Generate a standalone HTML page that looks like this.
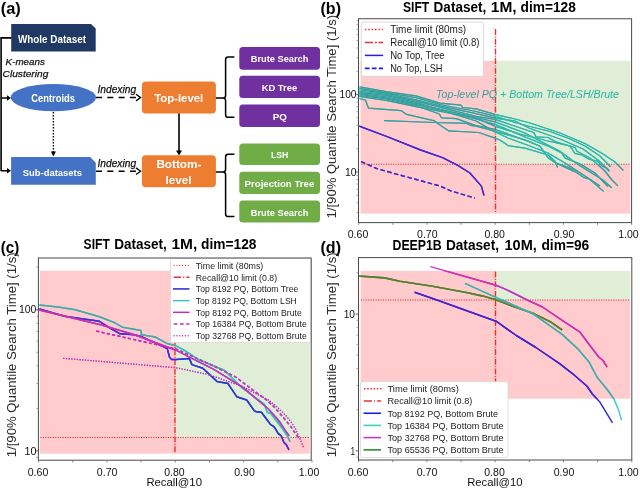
<!DOCTYPE html>
<html><head><meta charset="utf-8"><style>
html,body{margin:0;padding:0;background:#fff;}
body{width:640px;height:489px;overflow:hidden;}
svg{display:block;font-family:"Liberation Sans", sans-serif;filter:blur(0.35px);}
</style></head><body>
<svg width="640" height="489" viewBox="0 0 640 489">
<rect x="0" y="0" width="640" height="489" fill="#fff"/>
<text x="0.80" y="14.30" font-size="17" font-weight="bold" fill="#000" textLength="20.00" lengthAdjust="spacingAndGlyphs">(a)</text>
<path d="M11.5,37.9 H1.1 V171" fill="none" stroke="#000" stroke-width="1.6"/>
<line x1="1.10" y1="98.00" x2="9.00" y2="98.00" stroke="#000" stroke-width="1.5"/>
<path d="M7,95.3 L11,98 L7,100.7 Z" fill="#000"/>
<line x1="1.10" y1="170.80" x2="9.00" y2="170.80" stroke="#000" stroke-width="1.5"/>
<path d="M7,168.1 L11,170.8 L7,173.5 Z" fill="#000"/>
<path d="M11.2,23.9 H91 L95.7,28.6 V51.6 H11.2 Z" fill="#203864"/>
<text x="18.00" y="43.00" font-size="10.7" font-weight="bold" fill="#fff" textLength="68.00" lengthAdjust="spacingAndGlyphs">Whole Dataset</text>
<text x="5.60" y="65.00" font-size="9.8" font-style="italic" fill="#111" textLength="39.20" lengthAdjust="spacingAndGlyphs" stroke="#111" stroke-width="0.25">K-means</text>
<text x="2.60" y="77.20" font-size="9.8" font-style="italic" fill="#111" textLength="45.70" lengthAdjust="spacingAndGlyphs" stroke="#111" stroke-width="0.25">Clustering</text>
<ellipse cx="53.4" cy="97.6" rx="42.7" ry="13.7" fill="#4472C4"/>
<text x="31.20" y="101.60" font-size="10.3" font-weight="bold" fill="#fff" textLength="43.80" lengthAdjust="spacingAndGlyphs">Centroids</text>
<line x1="53.40" y1="112.00" x2="53.40" y2="152.50" stroke="#000" stroke-width="1.4" stroke-dasharray="1.4,1.6"/>
<path d="M50.9,151.5 L53.4,156.6 L55.9,151.5 Z" fill="#000"/>
<path d="M11.1,157.1 H90.2 L95.8,162.7 V184.8 H11.1 Z" fill="#4472C4"/>
<text x="22.70" y="176.10" font-size="9.8" font-weight="bold" fill="#fff" textLength="59.30" lengthAdjust="spacingAndGlyphs">Sub-datasets</text>
<line x1="96.00" y1="97.60" x2="139.50" y2="97.60" stroke="#000" stroke-width="1.5" stroke-dasharray="6,5.3"/>
<path d="M136,94.30 L140.6,97.60 L136,100.90" fill="none" stroke="#000" stroke-width="1.3"/>
<text x="97.50" y="92.60" font-size="10.0" font-style="italic" fill="#111" textLength="38.60" lengthAdjust="spacingAndGlyphs" stroke="#111" stroke-width="0.25">Indexing</text>
<line x1="96.00" y1="171.20" x2="139.50" y2="171.20" stroke="#000" stroke-width="1.5" stroke-dasharray="6,5.3"/>
<path d="M136,167.90 L140.6,171.20 L136,174.50" fill="none" stroke="#000" stroke-width="1.3"/>
<text x="97.50" y="167.10" font-size="10.0" font-style="italic" fill="#111" textLength="38.60" lengthAdjust="spacingAndGlyphs" stroke="#111" stroke-width="0.25">Indexing</text>
<rect x="141.90" y="81.50" width="74.00" height="32.10" fill="#ED7D31" rx="4"/>
<text x="154.20" y="102.00" font-size="11.0" font-weight="bold" fill="#fff" textLength="49.00" lengthAdjust="spacingAndGlyphs">Top-level</text>
<rect x="141.90" y="155.25" width="74.00" height="32.00" fill="#ED7D31" rx="4"/>
<text x="156.40" y="167.50" font-size="10.6" font-weight="bold" fill="#fff" textLength="45.00" lengthAdjust="spacingAndGlyphs">Bottom-</text>
<text x="165.40" y="183.75" font-size="10.6" font-weight="bold" fill="#fff" textLength="26.00" lengthAdjust="spacingAndGlyphs">level</text>
<line x1="179.00" y1="113.60" x2="179.00" y2="151.50" stroke="#000" stroke-width="1.6"/>
<path d="M176,150.5 L179,155.4 L182,150.5 Z" fill="#000"/>
<path d="M234.4,57.0 H228.2 Q225.6,57.0 225.6,59.6 V95.4 Q225.6,98.0 223,98.0 H215.9 M223,98.0 Q225.6,98.0 225.6,100.6 V114.7 Q225.6,117.3 228.2,117.3 H234.4" fill="none" stroke="#000" stroke-width="1.5"/>
<path d="M234.4,154.3 H228.2 Q225.6,154.3 225.6,156.9 V169.3 Q225.6,171.9 223,171.9 H215.9 M223,171.9 Q225.6,171.9 225.6,174.5 V214.0 Q225.6,216.6 228.2,216.6 H234.4" fill="none" stroke="#000" stroke-width="1.5"/>
<rect x="239.30" y="47.00" width="80.70" height="22.70" fill="#7030A0" rx="3.5"/>
<text x="250.70" y="61.80" font-size="9.2" font-weight="bold" fill="#fff" textLength="57.70" lengthAdjust="spacingAndGlyphs">Brute Search</text>
<rect x="239.30" y="75.80" width="80.70" height="22.30" fill="#7030A0" rx="3.5"/>
<text x="261.70" y="90.70" font-size="9.2" font-weight="bold" fill="#fff" textLength="35.50" lengthAdjust="spacingAndGlyphs">KD Tree</text>
<rect x="239.30" y="104.60" width="80.70" height="22.30" fill="#7030A0" rx="3.5"/>
<text x="272.80" y="119.70" font-size="9.2" font-weight="bold" fill="#fff" textLength="14.10" lengthAdjust="spacingAndGlyphs">PQ</text>
<rect x="239.30" y="143.60" width="80.70" height="21.50" fill="#70AD47" rx="3.5"/>
<text x="271.00" y="158.00" font-size="9.2" font-weight="bold" fill="#fff" textLength="17.30" lengthAdjust="spacingAndGlyphs">LSH</text>
<rect x="239.30" y="171.70" width="80.70" height="22.30" fill="#70AD47" rx="3.5"/>
<text x="244.60" y="186.60" font-size="9.2" font-weight="bold" fill="#fff" textLength="69.70" lengthAdjust="spacingAndGlyphs">Projection Tree</text>
<rect x="239.30" y="200.50" width="80.70" height="22.00" fill="#70AD47" rx="3.5"/>
<text x="250.70" y="215.50" font-size="9.2" font-weight="bold" fill="#fff" textLength="57.70" lengthAdjust="spacingAndGlyphs">Brute Search</text>
<text x="320.50" y="14.00" font-size="17" font-weight="bold" fill="#000" textLength="20.50" lengthAdjust="spacingAndGlyphs">(b)</text>
<text x="403.00" y="12.00" font-size="14" font-weight="bold" fill="#000" textLength="26.20" lengthAdjust="spacingAndGlyphs">SIFT</text>
<text x="433.60" y="12.00" font-size="14" font-weight="bold" fill="#000" textLength="52.60" lengthAdjust="spacingAndGlyphs">Dataset,</text>
<text x="490.80" y="12.00" font-size="14" font-weight="bold" fill="#000" textLength="25.80" lengthAdjust="spacingAndGlyphs">1M,</text>
<text x="520.50" y="12.00" font-size="14" font-weight="bold" fill="#000" textLength="55.40" lengthAdjust="spacingAndGlyphs">dim=128</text>
<rect x="360.50" y="60.75" width="135.00" height="152.85" fill="#FFCBCC"/>
<rect x="495.50" y="164.20" width="134.80" height="49.40" fill="#FFCBCC"/>
<rect x="495.50" y="60.75" width="134.80" height="103.45" fill="#E0EED8"/>
<clipPath id="bp"><rect x="360.5" y="60.75" width="135.00" height="152.85"/><rect x="495.5" y="164.2" width="134.80" height="49.40"/></clipPath>
<clipPath id="bg"><rect x="495.5" y="60.75" width="134.80" height="103.45"/></clipPath>
<line x1="361.20" y1="164.25" x2="630.30" y2="164.25" stroke="#F03030" stroke-width="1.0" stroke-dasharray="1.2,1.25"/>
<line x1="495.50" y1="29.00" x2="495.50" y2="213.20" stroke="#F03030" stroke-width="1.4" stroke-dasharray="6,1.4,1,1.3"/>
<polyline points="359.00,86.80 386.00,91.60 416.00,95.80 440.00,103.20 461.00,105.10 462.50,107.50 476.00,108.90 495.00,114.40 515.00,119.00 530.00,123.00 560.00,133.00 585.00,143.50 603.00,154.00 615.00,162.00 623.40,170.60" fill="none" stroke="#3CC4BC" stroke-width="1.25" stroke-linejoin="round"/>
<polyline points="359.00,86.80 386.00,91.60 416.00,95.80 440.00,103.20 461.00,105.10 462.50,107.50 476.00,108.90 495.00,114.40 515.00,119.00 530.00,123.00 560.00,133.00 585.00,143.50 603.00,154.00 615.00,162.00 623.40,170.60" fill="none" stroke="#3A9C9A" stroke-width="1.25" stroke-linejoin="round" clip-path="url(#bp)"/>
<polyline points="359.00,86.80 386.00,91.60 416.00,95.80 440.00,103.20 461.00,105.10 462.50,107.50 476.00,108.90 495.00,114.40 515.00,119.00 530.00,123.00 560.00,133.00 585.00,143.50 603.00,154.00 615.00,162.00 623.40,170.60" fill="none" stroke="#2DB5A6" stroke-width="1.25" stroke-linejoin="round" clip-path="url(#bg)"/>
<polyline points="359.00,88.30 386.00,92.60 416.00,97.60 440.00,104.50 476.00,111.50 495.00,116.20 515.00,122.50 530.00,126.50 550.00,131.50 570.00,139.00 585.00,146.00 600.00,156.00 610.50,166.70" fill="none" stroke="#3CC4BC" stroke-width="1.25" stroke-linejoin="round"/>
<polyline points="359.00,88.30 386.00,92.60 416.00,97.60 440.00,104.50 476.00,111.50 495.00,116.20 515.00,122.50 530.00,126.50 550.00,131.50 570.00,139.00 585.00,146.00 600.00,156.00 610.50,166.70" fill="none" stroke="#3A9C9A" stroke-width="1.25" stroke-linejoin="round" clip-path="url(#bp)"/>
<polyline points="359.00,88.30 386.00,92.60 416.00,97.60 440.00,104.50 476.00,111.50 495.00,116.20 515.00,122.50 530.00,126.50 550.00,131.50 570.00,139.00 585.00,146.00 600.00,156.00 610.50,166.70" fill="none" stroke="#2DB5A6" stroke-width="1.25" stroke-linejoin="round" clip-path="url(#bg)"/>
<polyline points="359.00,89.80 386.00,93.40 416.00,99.90 440.00,105.80 476.00,113.60 495.00,118.20 515.00,121.00 530.00,128.50 560.00,139.00 583.00,149.00 598.00,160.00 609.30,171.20" fill="none" stroke="#3CC4BC" stroke-width="1.25" stroke-linejoin="round"/>
<polyline points="359.00,89.80 386.00,93.40 416.00,99.90 440.00,105.80 476.00,113.60 495.00,118.20 515.00,121.00 530.00,128.50 560.00,139.00 583.00,149.00 598.00,160.00 609.30,171.20" fill="none" stroke="#3A9C9A" stroke-width="1.25" stroke-linejoin="round" clip-path="url(#bp)"/>
<polyline points="359.00,89.80 386.00,93.40 416.00,99.90 440.00,105.80 476.00,113.60 495.00,118.20 515.00,121.00 530.00,128.50 560.00,139.00 583.00,149.00 598.00,160.00 609.30,171.20" fill="none" stroke="#2DB5A6" stroke-width="1.25" stroke-linejoin="round" clip-path="url(#bg)"/>
<polyline points="359.00,91.40 386.00,94.30 416.00,101.20 476.00,116.40 495.00,119.40 533.75,132.50 536.00,136.90 548.00,137.50 556.00,141.90 575.00,147.50 577.00,151.25 590.00,158.00 604.00,170.00 612.00,180.00 617.90,185.90" fill="none" stroke="#3CC4BC" stroke-width="1.25" stroke-linejoin="round"/>
<polyline points="359.00,91.40 386.00,94.30 416.00,101.20 476.00,116.40 495.00,119.40 533.75,132.50 536.00,136.90 548.00,137.50 556.00,141.90 575.00,147.50 577.00,151.25 590.00,158.00 604.00,170.00 612.00,180.00 617.90,185.90" fill="none" stroke="#3A9C9A" stroke-width="1.25" stroke-linejoin="round" clip-path="url(#bp)"/>
<polyline points="359.00,91.40 386.00,94.30 416.00,101.20 476.00,116.40 495.00,119.40 533.75,132.50 536.00,136.90 548.00,137.50 556.00,141.90 575.00,147.50 577.00,151.25 590.00,158.00 604.00,170.00 612.00,180.00 617.90,185.90" fill="none" stroke="#2DB5A6" stroke-width="1.25" stroke-linejoin="round" clip-path="url(#bg)"/>
<polyline points="359.00,93.60 386.00,96.80 416.00,103.60 476.00,117.50 495.00,121.90 525.00,133.00 540.00,141.00 560.00,151.25 575.00,162.50 590.00,172.00 603.00,180.00 611.70,187.80" fill="none" stroke="#3CC4BC" stroke-width="1.25" stroke-linejoin="round"/>
<polyline points="359.00,93.60 386.00,96.80 416.00,103.60 476.00,117.50 495.00,121.90 525.00,133.00 540.00,141.00 560.00,151.25 575.00,162.50 590.00,172.00 603.00,180.00 611.70,187.80" fill="none" stroke="#3A9C9A" stroke-width="1.25" stroke-linejoin="round" clip-path="url(#bp)"/>
<polyline points="359.00,93.60 386.00,96.80 416.00,103.60 476.00,117.50 495.00,121.90 525.00,133.00 540.00,141.00 560.00,151.25 575.00,162.50 590.00,172.00 603.00,180.00 611.70,187.80" fill="none" stroke="#2DB5A6" stroke-width="1.25" stroke-linejoin="round" clip-path="url(#bg)"/>
<polyline points="359.00,94.60 386.00,97.90 416.00,104.60 439.40,110.00 476.00,119.00 495.00,124.40 525.00,137.00 550.00,146.90 562.00,153.10 565.00,158.10 580.00,163.75 595.00,173.00 608.00,186.50" fill="none" stroke="#3CC4BC" stroke-width="1.25" stroke-linejoin="round"/>
<polyline points="359.00,94.60 386.00,97.90 416.00,104.60 439.40,110.00 476.00,119.00 495.00,124.40 525.00,137.00 550.00,146.90 562.00,153.10 565.00,158.10 580.00,163.75 595.00,173.00 608.00,186.50" fill="none" stroke="#3A9C9A" stroke-width="1.25" stroke-linejoin="round" clip-path="url(#bp)"/>
<polyline points="359.00,94.60 386.00,97.90 416.00,104.60 439.40,110.00 476.00,119.00 495.00,124.40 525.00,137.00 550.00,146.90 562.00,153.10 565.00,158.10 580.00,163.75 595.00,173.00 608.00,186.50" fill="none" stroke="#2DB5A6" stroke-width="1.25" stroke-linejoin="round" clip-path="url(#bg)"/>
<polyline points="359.00,95.60 386.00,99.00 416.00,105.60 439.40,114.00 441.30,117.80 456.30,118.70 476.00,125.70 495.00,129.40 530.00,141.90 540.00,146.25 548.00,157.50 555.00,162.50 570.00,168.10 583.50,177.30 589.60,179.20 603.70,191.40" fill="none" stroke="#3CC4BC" stroke-width="1.25" stroke-linejoin="round"/>
<polyline points="359.00,95.60 386.00,99.00 416.00,105.60 439.40,114.00 441.30,117.80 456.30,118.70 476.00,125.70 495.00,129.40 530.00,141.90 540.00,146.25 548.00,157.50 555.00,162.50 570.00,168.10 583.50,177.30 589.60,179.20 603.70,191.40" fill="none" stroke="#3A9C9A" stroke-width="1.25" stroke-linejoin="round" clip-path="url(#bp)"/>
<polyline points="359.00,95.60 386.00,99.00 416.00,105.60 439.40,114.00 441.30,117.80 456.30,118.70 476.00,125.70 495.00,129.40 530.00,141.90 540.00,146.25 548.00,157.50 555.00,162.50 570.00,168.10 583.50,177.30 589.60,179.20 603.70,191.40" fill="none" stroke="#2DB5A6" stroke-width="1.25" stroke-linejoin="round" clip-path="url(#bg)"/>
<polyline points="359.00,96.40 386.00,100.40 416.00,106.60 476.00,118.20 495.00,126.25 520.00,134.00 548.00,141.00 570.00,146.00 574.90,153.40 582.30,155.20 589.60,159.50 597.00,160.80 601.90,165.70 606.80,168.10 609.30,170.60" fill="none" stroke="#3CC4BC" stroke-width="1.25" stroke-linejoin="round"/>
<polyline points="359.00,96.40 386.00,100.40 416.00,106.60 476.00,118.20 495.00,126.25 520.00,134.00 548.00,141.00 570.00,146.00 574.90,153.40 582.30,155.20 589.60,159.50 597.00,160.80 601.90,165.70 606.80,168.10 609.30,170.60" fill="none" stroke="#3A9C9A" stroke-width="1.25" stroke-linejoin="round" clip-path="url(#bp)"/>
<polyline points="359.00,96.40 386.00,100.40 416.00,106.60 476.00,118.20 495.00,126.25 520.00,134.00 548.00,141.00 570.00,146.00 574.90,153.40 582.30,155.20 589.60,159.50 597.00,160.80 601.90,165.70 606.80,168.10 609.30,170.60" fill="none" stroke="#2DB5A6" stroke-width="1.25" stroke-linejoin="round" clip-path="url(#bg)"/>
<polyline points="359.00,92.40 386.00,95.30 416.00,102.40 476.00,121.00 495.00,131.90 508.00,138.00 530.00,146.00 548.00,153.00 565.00,163.00 585.00,176.00 600.00,186.00" fill="none" stroke="#3CC4BC" stroke-width="1.25" stroke-linejoin="round"/>
<polyline points="359.00,92.40 386.00,95.30 416.00,102.40 476.00,121.00 495.00,131.90 508.00,138.00 530.00,146.00 548.00,153.00 565.00,163.00 585.00,176.00 600.00,186.00" fill="none" stroke="#3A9C9A" stroke-width="1.25" stroke-linejoin="round" clip-path="url(#bp)"/>
<polyline points="359.00,92.40 386.00,95.30 416.00,102.40 476.00,121.00 495.00,131.90 508.00,138.00 530.00,146.00 548.00,153.00 565.00,163.00 585.00,176.00 600.00,186.00" fill="none" stroke="#2DB5A6" stroke-width="1.25" stroke-linejoin="round" clip-path="url(#bg)"/>
<polyline points="358.80,98.50 365.40,100.00 368.50,108.10 401.00,110.60 406.60,114.40 433.80,120.60 438.50,123.90 448.80,130.90 478.75,132.50 495.00,138.10 500.00,140.00 508.00,145.60 525.00,148.10 548.00,155.00 555.00,161.25 557.50,167.50" fill="none" stroke="#3CC4BC" stroke-width="1.25" stroke-linejoin="round"/>
<polyline points="358.80,98.50 365.40,100.00 368.50,108.10 401.00,110.60 406.60,114.40 433.80,120.60 438.50,123.90 448.80,130.90 478.75,132.50 495.00,138.10 500.00,140.00 508.00,145.60 525.00,148.10 548.00,155.00 555.00,161.25 557.50,167.50" fill="none" stroke="#3A9C9A" stroke-width="1.25" stroke-linejoin="round" clip-path="url(#bp)"/>
<polyline points="358.80,98.50 365.40,100.00 368.50,108.10 401.00,110.60 406.60,114.40 433.80,120.60 438.50,123.90 448.80,130.90 478.75,132.50 495.00,138.10 500.00,140.00 508.00,145.60 525.00,148.10 548.00,155.00 555.00,161.25 557.50,167.50" fill="none" stroke="#2DB5A6" stroke-width="1.25" stroke-linejoin="round" clip-path="url(#bg)"/>
<polyline points="384.10,120.60 434.70,122.50 466.60,123.40 470.40,125.30 476.00,126.20 495.00,131.25 525.00,140.00 540.00,146.25 548.00,157.50 556.00,163.00 575.00,172.00" fill="none" stroke="#3CC4BC" stroke-width="1.25" stroke-linejoin="round"/>
<polyline points="384.10,120.60 434.70,122.50 466.60,123.40 470.40,125.30 476.00,126.20 495.00,131.25 525.00,140.00 540.00,146.25 548.00,157.50 556.00,163.00 575.00,172.00" fill="none" stroke="#3A9C9A" stroke-width="1.25" stroke-linejoin="round" clip-path="url(#bp)"/>
<polyline points="384.10,120.60 434.70,122.50 466.60,123.40 470.40,125.30 476.00,126.20 495.00,131.25 525.00,140.00 540.00,146.25 548.00,157.50 556.00,163.00 575.00,172.00" fill="none" stroke="#2DB5A6" stroke-width="1.25" stroke-linejoin="round" clip-path="url(#bg)"/>
<polyline points="359.00,126.00 387.80,136.90 420.60,150.00 442.50,157.70 457.80,165.30 469.90,173.00 481.40,186.10 484.00,195.50" fill="none" stroke="#3030E0" stroke-width="1.4" stroke-linejoin="round"/>
<polyline points="359.00,126.00 387.80,136.90 420.60,150.00 442.50,157.70 457.80,165.30 469.90,173.00 481.40,186.10 484.00,195.50" fill="none" stroke="#4A28CC" stroke-width="1.4" stroke-linejoin="round" clip-path="url(#bp)"/>
<polyline points="359.00,126.00 387.80,136.90 420.60,150.00 442.50,157.70 457.80,165.30 469.90,173.00 481.40,186.10 484.00,195.50" fill="none" stroke="#3030D8" stroke-width="1.4" stroke-linejoin="round" clip-path="url(#bg)"/>
<polyline points="361.10,161.60 376.90,168.60 394.40,173.60 416.30,179.50 440.30,186.10 451.30,191.10 474.90,198.10" fill="none" stroke="#3030E0" stroke-width="1.4" stroke-dasharray="4.5,2.5" stroke-linejoin="round"/>
<polyline points="361.10,161.60 376.90,168.60 394.40,173.60 416.30,179.50 440.30,186.10 451.30,191.10 474.90,198.10" fill="none" stroke="#4A28CC" stroke-width="1.4" stroke-dasharray="4.5,2.5" stroke-linejoin="round" clip-path="url(#bp)"/>
<polyline points="361.10,161.60 376.90,168.60 394.40,173.60 416.30,179.50 440.30,186.10 451.30,191.10 474.90,198.10" fill="none" stroke="#3030D8" stroke-width="1.4" stroke-dasharray="4.5,2.5" stroke-linejoin="round" clip-path="url(#bg)"/>
<text x="436.00" y="98.20" font-size="11.7" font-style="italic" fill="#3A9E9C" textLength="183.00" lengthAdjust="spacingAndGlyphs" clip-path="url(#bp)">Top-level PQ + Bottom Tree/LSH/Brute</text>
<text x="436.00" y="98.20" font-size="11.7" font-style="italic" fill="#26B5A4" textLength="183.00" lengthAdjust="spacingAndGlyphs" clip-path="url(#bg)">Top-level PQ + Bottom Tree/LSH/Brute</text>
<rect x="361.3" y="22" width="122.1" height="54.4" rx="2" fill="#fff" stroke="#d0d0d0" stroke-width="0.8"/>
<line x1="364.80" y1="29.50" x2="383.10" y2="29.50" stroke="#F03030" stroke-width="1.4" stroke-dasharray="1.5,1.9"/>
<line x1="364.80" y1="42.50" x2="383.10" y2="42.50" stroke="#F03030" stroke-width="1.6" stroke-dasharray="8.2,2,1.8,1.7"/>
<line x1="364.80" y1="55.40" x2="383.10" y2="55.40" stroke="#2020E0" stroke-width="1.5"/>
<line x1="364.80" y1="68.40" x2="383.10" y2="68.40" stroke="#2020E0" stroke-width="1.6" stroke-dasharray="4.8,2.2"/>
<text x="390.20" y="33.20" font-size="10.2" fill="#222" textLength="76.00" lengthAdjust="spacingAndGlyphs">Time limit (80ms)</text>
<text x="390.20" y="46.20" font-size="10.2" fill="#222" textLength="89.30" lengthAdjust="spacingAndGlyphs">Recall@10 limit (0.8)</text>
<text x="390.20" y="59.10" font-size="10.2" fill="#222" textLength="54.50" lengthAdjust="spacingAndGlyphs">No Top, Tree</text>
<text x="390.20" y="72.10" font-size="10.2" fill="#222" textLength="52.30" lengthAdjust="spacingAndGlyphs">No Top, LSH</text>
<rect x="358.50" y="18.75" width="273.10" height="203.85" fill="none" stroke="#4a4a4a" stroke-width="1"/>
<line x1="356.50" y1="212.47" x2="358.50" y2="212.47" stroke="#777" stroke-width="0.7"/>
<line x1="356.50" y1="202.80" x2="358.50" y2="202.80" stroke="#777" stroke-width="0.7"/>
<line x1="356.50" y1="195.30" x2="358.50" y2="195.30" stroke="#777" stroke-width="0.7"/>
<line x1="356.50" y1="189.17" x2="358.50" y2="189.17" stroke="#777" stroke-width="0.7"/>
<line x1="356.50" y1="183.99" x2="358.50" y2="183.99" stroke="#777" stroke-width="0.7"/>
<line x1="356.50" y1="179.50" x2="358.50" y2="179.50" stroke="#777" stroke-width="0.7"/>
<line x1="356.50" y1="175.54" x2="358.50" y2="175.54" stroke="#777" stroke-width="0.7"/>
<line x1="355.50" y1="172.00" x2="358.50" y2="172.00" stroke="#555" stroke-width="0.9"/>
<line x1="356.50" y1="148.70" x2="358.50" y2="148.70" stroke="#777" stroke-width="0.7"/>
<line x1="356.50" y1="135.07" x2="358.50" y2="135.07" stroke="#777" stroke-width="0.7"/>
<line x1="356.50" y1="125.40" x2="358.50" y2="125.40" stroke="#777" stroke-width="0.7"/>
<line x1="356.50" y1="117.90" x2="358.50" y2="117.90" stroke="#777" stroke-width="0.7"/>
<line x1="356.50" y1="111.77" x2="358.50" y2="111.77" stroke="#777" stroke-width="0.7"/>
<line x1="356.50" y1="106.59" x2="358.50" y2="106.59" stroke="#777" stroke-width="0.7"/>
<line x1="356.50" y1="102.10" x2="358.50" y2="102.10" stroke="#777" stroke-width="0.7"/>
<line x1="356.50" y1="98.14" x2="358.50" y2="98.14" stroke="#777" stroke-width="0.7"/>
<line x1="355.50" y1="94.60" x2="358.50" y2="94.60" stroke="#555" stroke-width="0.9"/>
<line x1="356.50" y1="71.30" x2="358.50" y2="71.30" stroke="#777" stroke-width="0.7"/>
<line x1="356.50" y1="57.67" x2="358.50" y2="57.67" stroke="#777" stroke-width="0.7"/>
<line x1="356.50" y1="48.00" x2="358.50" y2="48.00" stroke="#777" stroke-width="0.7"/>
<line x1="356.50" y1="40.50" x2="358.50" y2="40.50" stroke="#777" stroke-width="0.7"/>
<line x1="356.50" y1="34.37" x2="358.50" y2="34.37" stroke="#777" stroke-width="0.7"/>
<line x1="356.50" y1="29.19" x2="358.50" y2="29.19" stroke="#777" stroke-width="0.7"/>
<line x1="356.50" y1="24.70" x2="358.50" y2="24.70" stroke="#777" stroke-width="0.7"/>
<line x1="356.50" y1="20.74" x2="358.50" y2="20.74" stroke="#777" stroke-width="0.7"/>
<text x="356.50" y="98.30" font-size="10.2" text-anchor="end" fill="#111" textLength="17.00" lengthAdjust="spacingAndGlyphs">100</text>
<text x="356.50" y="175.80" font-size="10.2" text-anchor="end" fill="#111" textLength="11.50" lengthAdjust="spacingAndGlyphs">10</text>
<line x1="358.80" y1="222.60" x2="358.80" y2="224.80" stroke="#777" stroke-width="0.9"/>
<line x1="392.90" y1="222.60" x2="392.90" y2="224.80" stroke="#777" stroke-width="0.9"/>
<line x1="427.00" y1="222.60" x2="427.00" y2="224.80" stroke="#777" stroke-width="0.9"/>
<line x1="461.10" y1="222.60" x2="461.10" y2="224.80" stroke="#777" stroke-width="0.9"/>
<line x1="495.20" y1="222.60" x2="495.20" y2="224.80" stroke="#777" stroke-width="0.9"/>
<line x1="529.30" y1="222.60" x2="529.30" y2="224.80" stroke="#777" stroke-width="0.9"/>
<line x1="563.40" y1="222.60" x2="563.40" y2="224.80" stroke="#777" stroke-width="0.9"/>
<line x1="597.50" y1="222.60" x2="597.50" y2="224.80" stroke="#777" stroke-width="0.9"/>
<line x1="631.60" y1="222.60" x2="631.60" y2="224.80" stroke="#777" stroke-width="0.9"/>
<text x="358.00" y="237.50" font-size="10" text-anchor="middle" fill="#111" textLength="20.50" lengthAdjust="spacingAndGlyphs">0.60</text>
<text x="427.30" y="237.50" font-size="10" text-anchor="middle" fill="#111" textLength="20.50" lengthAdjust="spacingAndGlyphs">0.70</text>
<text x="494.70" y="237.50" font-size="10" text-anchor="middle" fill="#111" textLength="20.50" lengthAdjust="spacingAndGlyphs">0.80</text>
<text x="564.00" y="237.50" font-size="10" text-anchor="middle" fill="#111" textLength="20.50" lengthAdjust="spacingAndGlyphs">0.90</text>
<text x="628.40" y="237.50" font-size="10" text-anchor="middle" fill="#111" textLength="20.50" lengthAdjust="spacingAndGlyphs">1.00</text>
<text transform="translate(336.3,116.7) rotate(-90)" font-size="12.3" text-anchor="middle" fill="#2a2a2a" textLength="203.5" lengthAdjust="spacingAndGlyphs">1/[90% Quantile Search Time] (1/s)</text>
<text x="0.80" y="252.80" font-size="17" font-weight="bold" fill="#000" textLength="18.50" lengthAdjust="spacingAndGlyphs">(c)</text>
<text x="83.60" y="249.10" font-size="14" font-weight="bold" fill="#000" textLength="26.20" lengthAdjust="spacingAndGlyphs">SIFT</text>
<text x="114.20" y="249.10" font-size="14" font-weight="bold" fill="#000" textLength="52.60" lengthAdjust="spacingAndGlyphs">Dataset,</text>
<text x="171.40" y="249.10" font-size="14" font-weight="bold" fill="#000" textLength="25.80" lengthAdjust="spacingAndGlyphs">1M,</text>
<text x="201.10" y="249.10" font-size="14" font-weight="bold" fill="#000" textLength="55.40" lengthAdjust="spacingAndGlyphs">dim=128</text>
<rect x="40.00" y="270.75" width="135.20" height="182.95" fill="#FFCBCC"/>
<rect x="175.20" y="437.50" width="134.60" height="16.20" fill="#FFCBCC"/>
<rect x="175.20" y="270.75" width="134.60" height="166.75" fill="#E0EED8"/>
<clipPath id="cp"><rect x="40.0" y="270.75" width="135.20" height="182.95"/><rect x="175.2" y="437.5" width="134.60" height="16.20"/></clipPath>
<clipPath id="cg"><rect x="175.2" y="270.75" width="134.60" height="166.75"/></clipPath>
<line x1="40.50" y1="437.50" x2="309.80" y2="437.50" stroke="#F03030" stroke-width="1.0" stroke-dasharray="1.2,1.25"/>
<line x1="175.00" y1="262.00" x2="175.00" y2="453.40" stroke="#F03030" stroke-width="1.4" stroke-dasharray="6,1.4,1,1.3"/>
<polyline points="38.20,304.90 57.90,307.00 75.40,309.70 99.40,316.70 114.80,322.80 122.40,327.20 141.00,330.50 141.40,334.80 155.20,337.00 167.30,343.60 176.00,345.80 185.30,350.80 198.40,359.50 224.70,370.50 242.20,388.00 258.80,400.00 264.60,404.50 267.20,412.20 271.00,413.50 276.20,420.50 282.60,428.80 287.70,436.50 290.00,441.70" fill="none" stroke="#40C8C0" stroke-width="1.5" stroke-linejoin="round"/>
<polyline points="38.20,304.90 57.90,307.00 75.40,309.70 99.40,316.70 114.80,322.80 122.40,327.20 141.00,330.50 141.40,334.80 155.20,337.00 167.30,343.60 176.00,345.80 185.30,350.80 198.40,359.50 224.70,370.50 242.20,388.00 258.80,400.00 264.60,404.50 267.20,412.20 271.00,413.50 276.20,420.50 282.60,428.80 287.70,436.50 290.00,441.70" fill="none" stroke="#48A8A8" stroke-width="1.5" stroke-linejoin="round" clip-path="url(#cp)"/>
<polyline points="38.20,304.90 57.90,307.00 75.40,309.70 99.40,316.70 114.80,322.80 122.40,327.20 141.00,330.50 141.40,334.80 155.20,337.00 167.30,343.60 176.00,345.80 185.30,350.80 198.40,359.50 224.70,370.50 242.20,388.00 258.80,400.00 264.60,404.50 267.20,412.20 271.00,413.50 276.20,420.50 282.60,428.80 287.70,436.50 290.00,441.70" fill="none" stroke="#30C4B0" stroke-width="1.5" stroke-linejoin="round" clip-path="url(#cg)"/>
<polyline points="38.20,308.60 64.40,316.30 99.40,321.30 110.40,328.30 120.20,333.80 134.40,334.80 141.00,336.40 167.30,348.60 169.40,356.70 171.60,359.60 176.00,359.60 189.30,358.40 191.90,364.60 202.80,368.30 217.00,381.40 228.00,383.60 236.70,396.70 246.70,400.00 254.40,410.90 256.30,411.80 261.40,412.20 268.50,421.80 270.40,424.40 274.20,426.90 278.10,433.30 281.30,435.90 283.80,442.30 286.40,444.90 289.00,450.00" fill="none" stroke="#3030E0" stroke-width="1.5" stroke-linejoin="round"/>
<polyline points="38.20,308.60 64.40,316.30 99.40,321.30 110.40,328.30 120.20,333.80 134.40,334.80 141.00,336.40 167.30,348.60 169.40,356.70 171.60,359.60 176.00,359.60 189.30,358.40 191.90,364.60 202.80,368.30 217.00,381.40 228.00,383.60 236.70,396.70 246.70,400.00 254.40,410.90 256.30,411.80 261.40,412.20 268.50,421.80 270.40,424.40 274.20,426.90 278.10,433.30 281.30,435.90 283.80,442.30 286.40,444.90 289.00,450.00" fill="none" stroke="#4A2AD0" stroke-width="1.5" stroke-linejoin="round" clip-path="url(#cp)"/>
<polyline points="38.20,308.60 64.40,316.30 99.40,321.30 110.40,328.30 120.20,333.80 134.40,334.80 141.00,336.40 167.30,348.60 169.40,356.70 171.60,359.60 176.00,359.60 189.30,358.40 191.90,364.60 202.80,368.30 217.00,381.40 228.00,383.60 236.70,396.70 246.70,400.00 254.40,410.90 256.30,411.80 261.40,412.20 268.50,421.80 270.40,424.40 274.20,426.90 278.10,433.30 281.30,435.90 283.80,442.30 286.40,444.90 289.00,450.00" fill="none" stroke="#2A3AD0" stroke-width="1.5" stroke-linejoin="round" clip-path="url(#cg)"/>
<polyline points="38.20,309.70 101.60,325.00 134.40,334.80 176.00,350.20 191.90,358.40 213.80,369.40 242.20,386.90 257.60,400.00 268.50,409.00 278.70,420.50 285.10,430.10 289.20,435.90" fill="none" stroke="#C838C8" stroke-width="1.5" stroke-linejoin="round"/>
<polyline points="38.20,309.70 101.60,325.00 134.40,334.80 176.00,350.20 191.90,358.40 213.80,369.40 242.20,386.90 257.60,400.00 268.50,409.00 278.70,420.50 285.10,430.10 289.20,435.90" fill="none" stroke="#C82EB4" stroke-width="1.5" stroke-linejoin="round" clip-path="url(#cp)"/>
<polyline points="38.20,309.70 101.60,325.00 134.40,334.80 176.00,350.20 191.90,358.40 213.80,369.40 242.20,386.90 257.60,400.00 268.50,409.00 278.70,420.50 285.10,430.10 289.20,435.90" fill="none" stroke="#B83CBC" stroke-width="1.5" stroke-linejoin="round" clip-path="url(#cg)"/>
<polyline points="96.20,331.10 176.00,349.00 213.80,366.10 235.60,377.00 257.50,393.40 266.50,400.00 274.90,407.70 283.80,418.00 291.50,427.60 297.90,437.20" fill="none" stroke="#C838C8" stroke-width="1.5" stroke-dasharray="3.2,2.2" stroke-linejoin="round"/>
<polyline points="96.20,331.10 176.00,349.00 213.80,366.10 235.60,377.00 257.50,393.40 266.50,400.00 274.90,407.70 283.80,418.00 291.50,427.60 297.90,437.20" fill="none" stroke="#C82EB4" stroke-width="1.5" stroke-dasharray="3.2,2.2" stroke-linejoin="round" clip-path="url(#cp)"/>
<polyline points="96.20,331.10 176.00,349.00 213.80,366.10 235.60,377.00 257.50,393.40 266.50,400.00 274.90,407.70 283.80,418.00 291.50,427.60 297.90,437.20" fill="none" stroke="#B83CBC" stroke-width="1.5" stroke-dasharray="3.2,2.2" stroke-linejoin="round" clip-path="url(#cg)"/>
<polyline points="63.30,358.30 176.00,367.70 209.40,374.80 242.20,386.40 268.40,400.00 278.00,407.90 285.80,415.50 291.70,422.70 295.50,429.00 299.00,437.00 303.70,447.40" fill="none" stroke="#C838C8" stroke-width="1.3" stroke-dasharray="1.2,1.5" stroke-linejoin="round"/>
<polyline points="63.30,358.30 176.00,367.70 209.40,374.80 242.20,386.40 268.40,400.00 278.00,407.90 285.80,415.50 291.70,422.70 295.50,429.00 299.00,437.00 303.70,447.40" fill="none" stroke="#C82EB4" stroke-width="1.3" stroke-dasharray="1.2,1.5" stroke-linejoin="round" clip-path="url(#cp)"/>
<polyline points="63.30,358.30 176.00,367.70 209.40,374.80 242.20,386.40 268.40,400.00 278.00,407.90 285.80,415.50 291.70,422.70 295.50,429.00 299.00,437.00 303.70,447.40" fill="none" stroke="#B83CBC" stroke-width="1.3" stroke-dasharray="1.2,1.5" stroke-linejoin="round" clip-path="url(#cg)"/>
<rect x="170.5" y="258.3" width="140.5" height="84.2" rx="2" fill="#fff" stroke="#d8d8d8" stroke-width="0.8"/>
<line x1="173.60" y1="265.50" x2="189.50" y2="265.50" stroke="#F03030" stroke-width="1.2" stroke-dasharray="1.1,1.7"/>
<line x1="173.60" y1="277.21" x2="189.50" y2="277.21" stroke="#F03030" stroke-width="1.4" stroke-dasharray="7.5,2,1.3,2"/>
<line x1="173.00" y1="288.92" x2="189.50" y2="288.92" stroke="#2828D8" stroke-width="1.5"/>
<line x1="173.00" y1="300.63" x2="189.50" y2="300.63" stroke="#30C8C0" stroke-width="1.5"/>
<line x1="173.00" y1="312.34" x2="189.50" y2="312.34" stroke="#C030C0" stroke-width="1.5"/>
<line x1="173.60" y1="324.05" x2="189.50" y2="324.05" stroke="#C030C0" stroke-width="1.5" stroke-dasharray="3.8,2.5"/>
<line x1="173.60" y1="335.76" x2="189.50" y2="335.76" stroke="#C030C0" stroke-width="1.4" stroke-dasharray="1.1,1.7"/>
<text x="195.80" y="268.80" font-size="9.3" fill="#222" textLength="67.50" lengthAdjust="spacingAndGlyphs">Time limit (80ms)</text>
<text x="195.80" y="280.51" font-size="9.3" fill="#222" textLength="81.30" lengthAdjust="spacingAndGlyphs">Recall@10 limit (0.8)</text>
<text x="195.80" y="292.22" font-size="9.3" fill="#222" textLength="102.50" lengthAdjust="spacingAndGlyphs">Top 8192 PQ, Bottom Tree</text>
<text x="195.80" y="303.93" font-size="9.3" fill="#222" textLength="101.00" lengthAdjust="spacingAndGlyphs">Top 8192 PQ, Bottom LSH</text>
<text x="195.80" y="315.64" font-size="9.3" fill="#222" textLength="106.00" lengthAdjust="spacingAndGlyphs">Top 8192 PQ, Bottom Brute</text>
<text x="195.80" y="327.35" font-size="9.3" fill="#222" textLength="111.00" lengthAdjust="spacingAndGlyphs">Top 16384 PQ, Bottom Brute</text>
<text x="195.80" y="339.06" font-size="9.3" fill="#222" textLength="111.00" lengthAdjust="spacingAndGlyphs">Top 32768 PQ, Bottom Brute</text>
<rect x="38.40" y="258.00" width="272.80" height="202.20" fill="none" stroke="#4a4a4a" stroke-width="1"/>
<line x1="36.40" y1="457.41" x2="38.40" y2="457.41" stroke="#777" stroke-width="0.7"/>
<line x1="35.40" y1="450.95" x2="38.40" y2="450.95" stroke="#555" stroke-width="0.9"/>
<line x1="36.40" y1="408.44" x2="38.40" y2="408.44" stroke="#777" stroke-width="0.7"/>
<line x1="36.40" y1="383.58" x2="38.40" y2="383.58" stroke="#777" stroke-width="0.7"/>
<line x1="36.40" y1="365.94" x2="38.40" y2="365.94" stroke="#777" stroke-width="0.7"/>
<line x1="36.40" y1="352.26" x2="38.40" y2="352.26" stroke="#777" stroke-width="0.7"/>
<line x1="36.40" y1="341.08" x2="38.40" y2="341.08" stroke="#777" stroke-width="0.7"/>
<line x1="36.40" y1="331.62" x2="38.40" y2="331.62" stroke="#777" stroke-width="0.7"/>
<line x1="36.40" y1="323.43" x2="38.40" y2="323.43" stroke="#777" stroke-width="0.7"/>
<line x1="36.40" y1="316.21" x2="38.40" y2="316.21" stroke="#777" stroke-width="0.7"/>
<line x1="35.40" y1="309.75" x2="38.40" y2="309.75" stroke="#555" stroke-width="0.9"/>
<line x1="36.40" y1="267.24" x2="38.40" y2="267.24" stroke="#777" stroke-width="0.7"/>
<text x="36.40" y="313.40" font-size="10.2" text-anchor="end" fill="#111" textLength="17.50" lengthAdjust="spacingAndGlyphs">100</text>
<text x="36.40" y="454.60" font-size="10.2" text-anchor="end" fill="#111" textLength="12.00" lengthAdjust="spacingAndGlyphs">10</text>
<line x1="38.60" y1="460.20" x2="38.60" y2="462.40" stroke="#777" stroke-width="0.9"/>
<line x1="72.78" y1="460.20" x2="72.78" y2="462.40" stroke="#777" stroke-width="0.9"/>
<line x1="106.95" y1="460.20" x2="106.95" y2="462.40" stroke="#777" stroke-width="0.9"/>
<line x1="141.12" y1="460.20" x2="141.12" y2="462.40" stroke="#777" stroke-width="0.9"/>
<line x1="175.30" y1="460.20" x2="175.30" y2="462.40" stroke="#777" stroke-width="0.9"/>
<line x1="209.47" y1="460.20" x2="209.47" y2="462.40" stroke="#777" stroke-width="0.9"/>
<line x1="243.65" y1="460.20" x2="243.65" y2="462.40" stroke="#777" stroke-width="0.9"/>
<line x1="277.82" y1="460.20" x2="277.82" y2="462.40" stroke="#777" stroke-width="0.9"/>
<line x1="312.00" y1="460.20" x2="312.00" y2="462.40" stroke="#777" stroke-width="0.9"/>
<text x="38.00" y="475.60" font-size="10" text-anchor="middle" fill="#111" textLength="20.50" lengthAdjust="spacingAndGlyphs">0.60</text>
<text x="107.10" y="475.60" font-size="10" text-anchor="middle" fill="#111" textLength="20.50" lengthAdjust="spacingAndGlyphs">0.70</text>
<text x="174.40" y="475.60" font-size="10" text-anchor="middle" fill="#111" textLength="20.50" lengthAdjust="spacingAndGlyphs">0.80</text>
<text x="244.50" y="475.60" font-size="10" text-anchor="middle" fill="#111" textLength="20.50" lengthAdjust="spacingAndGlyphs">0.90</text>
<text x="309.00" y="475.60" font-size="10" text-anchor="middle" fill="#111" textLength="20.50" lengthAdjust="spacingAndGlyphs">1.00</text>
<text x="146.40" y="485.80" font-size="10.3" fill="#111" textLength="55.60" lengthAdjust="spacingAndGlyphs">Recall@10</text>
<text transform="translate(16.4,354.85) rotate(-90)" font-size="12.3" text-anchor="middle" fill="#2a2a2a" textLength="205" lengthAdjust="spacingAndGlyphs">1/[90% Quantile Search Time] (1/s)</text>
<text x="320.50" y="252.80" font-size="17" font-weight="bold" fill="#000" textLength="20.50" lengthAdjust="spacingAndGlyphs">(d)</text>
<text x="392.50" y="249.70" font-size="14" font-weight="bold" fill="#000" textLength="49.20" lengthAdjust="spacingAndGlyphs">DEEP1B</text>
<text x="445.90" y="249.70" font-size="14" font-weight="bold" fill="#000" textLength="53.10" lengthAdjust="spacingAndGlyphs">Dataset,</text>
<text x="504.50" y="249.70" font-size="14" font-weight="bold" fill="#000" textLength="32.30" lengthAdjust="spacingAndGlyphs">10M,</text>
<text x="541.40" y="249.70" font-size="14" font-weight="bold" fill="#000" textLength="47.90" lengthAdjust="spacingAndGlyphs">dim=96</text>
<rect x="360.60" y="270.90" width="134.90" height="127.80" fill="#FFCBCC"/>
<rect x="495.50" y="300.00" width="134.70" height="98.70" fill="#FFCBCC"/>
<rect x="495.50" y="270.90" width="134.70" height="29.10" fill="#E0EED8"/>
<clipPath id="dp"><rect x="360.6" y="270.9" width="134.90" height="127.80"/><rect x="495.5" y="300.0" width="134.70" height="98.70"/></clipPath>
<clipPath id="dg"><rect x="495.5" y="270.9" width="134.70" height="29.10"/></clipPath>
<line x1="360.80" y1="300.00" x2="630.20" y2="300.00" stroke="#F03030" stroke-width="1.0" stroke-dasharray="1.2,1.25"/>
<line x1="495.50" y1="271.50" x2="495.50" y2="398.50" stroke="#F03030" stroke-width="1.4" stroke-dasharray="6,1.4,1,1.3"/>
<polyline points="358.60,276.00 384.40,277.90 399.80,281.20 432.60,286.30 467.60,292.80 482.90,296.10 496.00,299.80 511.90,306.00 533.80,313.60 551.30,322.30 562.20,330.00" fill="none" stroke="#2E8B2E" stroke-width="1.6" stroke-linejoin="round"/>
<polyline points="358.60,276.00 384.40,277.90 399.80,281.20 432.60,286.30 467.60,292.80 482.90,296.10 496.00,299.80 511.90,306.00 533.80,313.60 551.30,322.30 562.20,330.00" fill="none" stroke="#5F7F2F" stroke-width="1.6" stroke-linejoin="round" clip-path="url(#dp)"/>
<polyline points="358.60,276.00 384.40,277.90 399.80,281.20 432.60,286.30 467.60,292.80 482.90,296.10 496.00,299.80 511.90,306.00 533.80,313.60 551.30,322.30 562.20,330.00" fill="none" stroke="#3E8A3A" stroke-width="1.6" stroke-linejoin="round" clip-path="url(#dg)"/>
<polyline points="430.40,266.60 496.00,285.30 505.30,289.10 527.20,300.00 542.50,307.00 564.40,321.90 579.70,331.80 585.80,340.00 598.90,357.20 603.00,360.50 607.10,367.00" fill="none" stroke="#C838C8" stroke-width="1.5" stroke-linejoin="round"/>
<polyline points="430.40,266.60 496.00,285.30 505.30,289.10 527.20,300.00 542.50,307.00 564.40,321.90 579.70,331.80 585.80,340.00 598.90,357.20 603.00,360.50 607.10,367.00" fill="none" stroke="#D22EB0" stroke-width="1.5" stroke-linejoin="round" clip-path="url(#dp)"/>
<polyline points="430.40,266.60 496.00,285.30 505.30,289.10 527.20,300.00 542.50,307.00 564.40,321.90 579.70,331.80 585.80,340.00 598.90,357.20 603.00,360.50 607.10,367.00" fill="none" stroke="#B83CBC" stroke-width="1.5" stroke-linejoin="round" clip-path="url(#dg)"/>
<polyline points="464.90,283.40 496.00,297.40 503.10,300.50 533.80,314.30 562.20,334.40 577.50,348.60 589.10,362.10 597.30,377.60 607.60,390.00 613.70,398.60 618.00,408.40 621.50,420.10" fill="none" stroke="#40D0C0" stroke-width="1.5" stroke-linejoin="round"/>
<polyline points="464.90,283.40 496.00,297.40 503.10,300.50 533.80,314.30 562.20,334.40 577.50,348.60 589.10,362.10 597.30,377.60 607.60,390.00 613.70,398.60 618.00,408.40 621.50,420.10" fill="none" stroke="#48A8A8" stroke-width="1.5" stroke-linejoin="round" clip-path="url(#dp)"/>
<polyline points="464.90,283.40 496.00,297.40 503.10,300.50 533.80,314.30 562.20,334.40 577.50,348.60 589.10,362.10 597.30,377.60 607.60,390.00 613.70,398.60 618.00,408.40 621.50,420.10" fill="none" stroke="#30C4B0" stroke-width="1.5" stroke-linejoin="round" clip-path="url(#dg)"/>
<polyline points="414.60,292.20 436.90,300.00 496.00,321.20 516.30,335.50 535.90,347.50 559.60,363.70 574.40,375.20 586.60,385.80 592.40,394.00 599.60,401.70 612.50,422.90" fill="none" stroke="#3030E0" stroke-width="1.5" stroke-linejoin="round"/>
<polyline points="414.60,292.20 436.90,300.00 496.00,321.20 516.30,335.50 535.90,347.50 559.60,363.70 574.40,375.20 586.60,385.80 592.40,394.00 599.60,401.70 612.50,422.90" fill="none" stroke="#4A22CC" stroke-width="1.5" stroke-linejoin="round" clip-path="url(#dp)"/>
<polyline points="414.60,292.20 436.90,300.00 496.00,321.20 516.30,335.50 535.90,347.50 559.60,363.70 574.40,375.20 586.60,385.80 592.40,394.00 599.60,401.70 612.50,422.90" fill="none" stroke="#2A3AD0" stroke-width="1.5" stroke-linejoin="round" clip-path="url(#dg)"/>
<rect x="360.5" y="381.75" width="147.5" height="75.75" rx="2" fill="#fff" stroke="#d8d8d8" stroke-width="0.8"/>
<line x1="364.00" y1="388.75" x2="381.50" y2="388.75" stroke="#F03030" stroke-width="1.4" stroke-dasharray="1.5,1.7"/>
<line x1="363.90" y1="401.00" x2="381.10" y2="401.00" stroke="#F03030" stroke-width="1.6" stroke-dasharray="8.1,2,1,2.2"/>
<line x1="363.50" y1="413.25" x2="381.00" y2="413.25" stroke="#2020D8" stroke-width="1.6"/>
<line x1="363.50" y1="425.40" x2="381.00" y2="425.40" stroke="#40D0C0" stroke-width="1.6"/>
<line x1="363.50" y1="437.60" x2="381.00" y2="437.60" stroke="#C838C8" stroke-width="1.6"/>
<line x1="363.50" y1="449.90" x2="381.00" y2="449.90" stroke="#2E8B2E" stroke-width="1.6"/>
<text x="387.50" y="392.15" font-size="9.8" fill="#222" textLength="71.30" lengthAdjust="spacingAndGlyphs">Time limit (80ms)</text>
<text x="387.50" y="404.40" font-size="9.8" fill="#222" textLength="84.80" lengthAdjust="spacingAndGlyphs">Recall@10 limit (0.8)</text>
<text x="387.50" y="416.65" font-size="9.8" fill="#222" textLength="110.50" lengthAdjust="spacingAndGlyphs">Top 8192 PQ, Bottom Brute</text>
<text x="387.50" y="428.80" font-size="9.8" fill="#222" textLength="116.00" lengthAdjust="spacingAndGlyphs">Top 16384 PQ, Bottom Brute</text>
<text x="387.50" y="441.00" font-size="9.8" fill="#222" textLength="116.00" lengthAdjust="spacingAndGlyphs">Top 32768 PQ, Bottom Brute</text>
<text x="387.50" y="453.30" font-size="9.8" fill="#222" textLength="116.00" lengthAdjust="spacingAndGlyphs">Top 65536 PQ, Bottom Brute</text>
<rect x="358.50" y="257.60" width="273.30" height="202.40" fill="none" stroke="#4a4a4a" stroke-width="1"/>
<line x1="356.50" y1="457.16" x2="358.50" y2="457.16" stroke="#777" stroke-width="0.7"/>
<line x1="355.50" y1="450.90" x2="358.50" y2="450.90" stroke="#555" stroke-width="0.9"/>
<line x1="356.50" y1="409.69" x2="358.50" y2="409.69" stroke="#777" stroke-width="0.7"/>
<line x1="356.50" y1="385.58" x2="358.50" y2="385.58" stroke="#777" stroke-width="0.7"/>
<line x1="356.50" y1="368.48" x2="358.50" y2="368.48" stroke="#777" stroke-width="0.7"/>
<line x1="356.50" y1="355.21" x2="358.50" y2="355.21" stroke="#777" stroke-width="0.7"/>
<line x1="356.50" y1="344.37" x2="358.50" y2="344.37" stroke="#777" stroke-width="0.7"/>
<line x1="356.50" y1="335.21" x2="358.50" y2="335.21" stroke="#777" stroke-width="0.7"/>
<line x1="356.50" y1="327.27" x2="358.50" y2="327.27" stroke="#777" stroke-width="0.7"/>
<line x1="356.50" y1="320.26" x2="358.50" y2="320.26" stroke="#777" stroke-width="0.7"/>
<line x1="355.50" y1="314.00" x2="358.50" y2="314.00" stroke="#555" stroke-width="0.9"/>
<line x1="356.50" y1="272.79" x2="358.50" y2="272.79" stroke="#777" stroke-width="0.7"/>
<text x="355.00" y="317.70" font-size="10.2" text-anchor="end" fill="#111" textLength="11.30" lengthAdjust="spacingAndGlyphs">10</text>
<text x="355.00" y="454.60" font-size="10.2" text-anchor="end" fill="#111" textLength="4.60" lengthAdjust="spacingAndGlyphs">1</text>
<line x1="358.60" y1="460.00" x2="358.60" y2="462.20" stroke="#777" stroke-width="0.9"/>
<line x1="392.75" y1="460.00" x2="392.75" y2="462.20" stroke="#777" stroke-width="0.9"/>
<line x1="426.90" y1="460.00" x2="426.90" y2="462.20" stroke="#777" stroke-width="0.9"/>
<line x1="461.05" y1="460.00" x2="461.05" y2="462.20" stroke="#777" stroke-width="0.9"/>
<line x1="495.20" y1="460.00" x2="495.20" y2="462.20" stroke="#777" stroke-width="0.9"/>
<line x1="529.35" y1="460.00" x2="529.35" y2="462.20" stroke="#777" stroke-width="0.9"/>
<line x1="563.50" y1="460.00" x2="563.50" y2="462.20" stroke="#777" stroke-width="0.9"/>
<line x1="597.65" y1="460.00" x2="597.65" y2="462.20" stroke="#777" stroke-width="0.9"/>
<line x1="631.80" y1="460.00" x2="631.80" y2="462.20" stroke="#777" stroke-width="0.9"/>
<text x="358.00" y="475.60" font-size="10" text-anchor="middle" fill="#111" textLength="20.50" lengthAdjust="spacingAndGlyphs">0.60</text>
<text x="427.00" y="475.60" font-size="10" text-anchor="middle" fill="#111" textLength="20.50" lengthAdjust="spacingAndGlyphs">0.70</text>
<text x="494.50" y="475.60" font-size="10" text-anchor="middle" fill="#111" textLength="20.50" lengthAdjust="spacingAndGlyphs">0.80</text>
<text x="564.00" y="475.60" font-size="10" text-anchor="middle" fill="#111" textLength="20.50" lengthAdjust="spacingAndGlyphs">0.90</text>
<text x="628.40" y="475.60" font-size="10" text-anchor="middle" fill="#111" textLength="20.50" lengthAdjust="spacingAndGlyphs">1.00</text>
<text x="467.20" y="485.80" font-size="10.3" fill="#111" textLength="55.40" lengthAdjust="spacingAndGlyphs">Recall@10</text>
<text transform="translate(336.3,354.85) rotate(-90)" font-size="12.3" text-anchor="middle" fill="#2a2a2a" textLength="205" lengthAdjust="spacingAndGlyphs">1/[90% Quantile Search Time] (1/s)</text>
</svg>
</body></html>
